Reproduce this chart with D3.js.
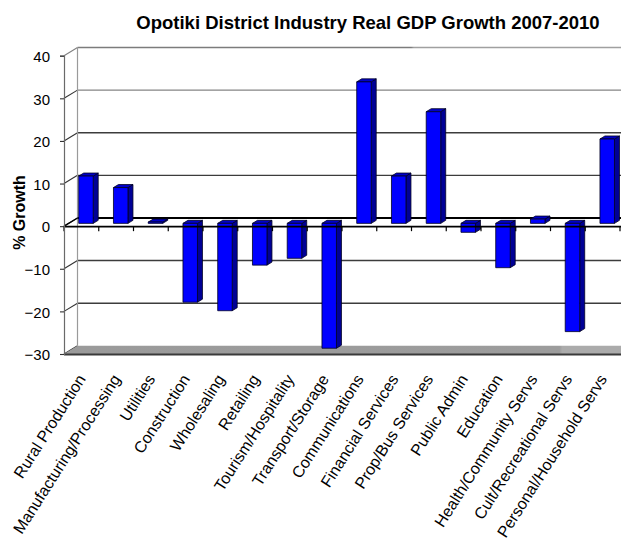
<!DOCTYPE html>
<html>
<head>
<meta charset="utf-8">
<script src="https://cdn.jsdelivr.net/npm/d3@7/dist/d3.min.js"></script>
<style>
  html, body { margin: 0; padding: 0; background: #fff; }
  svg { display: block; font-family: "Liberation Sans", Arial, sans-serif; }
</style>
</head>
<body>
<svg id="chart" width="621" height="539"></svg>
<script>
// Real GDP growth by industry, Opotiki District, 2007-2010 (%)
const categories = [
  "Rural Production", "Manufacturing/Processing", "Utilities", "Construction",
  "Wholesaling", "Retailing", "Tourism/Hospitality", "Transport/Storage",
  "Communications", "Financial Services", "Prop/Bus Services", "Public Admin",
  "Education", "Health/Community Servs", "Cult/Recreational Servs", "Personal/Household Servs"
];
const growth = [11.1, 8.4, 0.3, -18.5, -20.5, -9.8, -8.2, -29.3,
                33.2, 11.1, 26.2, -2.1, -10.4, 1.0, -25.4, 19.8];
const yTicks = [-30, -20, -10, 0, 10, 20, 30, 40];
const titleText = "Opotiki District Industry Real GDP Growth 2007-2010";
const yTitle = "% Growth";

const svg = d3.select("#chart");

// front plane of the 3-D box
const X0 = 64, X1 = 620;
const x = d3.scaleBand().domain(categories).range([X0, X1]).paddingInner(0).paddingOuter(0);
const y = d3.scaleLinear().domain([-30, 40]).range([354, 55.7]);

// depth offset of the back wall
const DX = 13.5, DY = -8.2;
// bars sit part-way into the box
const f0 = 0.34, fd = 0.37;
const barW = 14.5;

const defs = svg.append("defs");
const g1 = defs.append("linearGradient").attr("id", "floorFill")
  .attr("gradientUnits", "userSpaceOnUse").attr("x1", X0).attr("x2", X1 + DX).attr("y1", 0).attr("y2", 0);
g1.append("stop").attr("offset", 0.0).attr("stop-color", "#9a9a9a");
g1.append("stop").attr("offset", 0.87).attr("stop-color", "#9c9c9c");
g1.append("stop").attr("offset", 0.875).attr("stop-color", "#ababab");
g1.append("stop").attr("offset", 1).attr("stop-color", "#ababab");
const g2 = defs.append("linearGradient").attr("id", "topLine")
  .attr("gradientUnits", "userSpaceOnUse").attr("x1", X0 + DX).attr("x2", X1 + DX).attr("y1", 0).attr("y2", 0);
g2.append("stop").attr("offset", 0.0).attr("stop-color", "#7c7c7c");
g2.append("stop").attr("offset", 0.6).attr("stop-color", "#7c7c7c");
g2.append("stop").attr("offset", 0.605).attr("stop-color", "#a0a0a0");
g2.append("stop").attr("offset", 1).attr("stop-color", "#a0a0a0");

// ---- walls ----
const walls = svg.append("g");

// back wall gridlines
walls.selectAll("line.grid")
  .data(yTicks.filter(v => v > -30 && v !== 0))
  .join("line")
  .attr("class", "grid")
  .attr("x1", X0 + DX).attr("x2", X1 + DX + 10)
  .attr("y1", d => y(d) + DY).attr("y2", d => y(d) + DY)
  .attr("stroke", d => d === 40 ? "url(#topLine)" : d === 30 ? "#858585" : "#3c3c3c")
  .attr("stroke-width", 1.4);

// side wall gridlines
walls.selectAll("line.side")
  .data(yTicks)
  .join("line")
  .attr("class", "side")
  .attr("x1", X0).attr("x2", X0 + DX)
  .attr("y1", d => y(d)).attr("y2", d => y(d) + DY)
  .attr("stroke", d => d === 40 ? "#808080" : "#333")
  .attr("stroke-width", 1.1);

// back wall left edge
walls.append("line")
  .attr("x1", X0 + DX).attr("x2", X0 + DX)
  .attr("y1", y(40) + DY).attr("y2", y(-30) + DY)
  .attr("stroke", "#9a9a9a").attr("stroke-width", 1.2);

// floor
walls.append("path")
  .attr("d", `M${X0},${y(-30)}L${X1 + 20},${y(-30)}L${X1 + 20},${y(-30) + DY}L${X0 + DX},${y(-30) + DY}Z`)
  .attr("fill", "url(#floorFill)");
walls.append("line")
  .attr("x1", X0).attr("x2", X1 + 20)
  .attr("y1", y(-30) + 0.5).attr("y2", y(-30) + 0.5)
  .attr("stroke", "#3a3a3a").attr("stroke-width", 2);

// zero line on the back wall
walls.append("line")
  .attr("x1", X0 + DX).attr("x2", X1 + DX + 10)
  .attr("y1", y(0) + DY).attr("y2", y(0) + DY)
  .attr("stroke", "#000").attr("stroke-width", 2);

// ---- bars ----
const ddx = DX * fd, ddy = DY * fd;
const bars = svg.append("g");
categories.forEach((c, i) => {
  const v = growth[i];
  const fx = x(c) + x.bandwidth() / 2 - barW / 2 + DX * f0;
  const y0 = y(0) + DY * f0;
  const yv = y(v) + DY * f0;
  const yTop = Math.min(y0, yv), yBot = Math.max(y0, yv);
  const b = bars.append("g").attr("stroke", "#000022").attr("stroke-width", 0.8).attr("stroke-linejoin", "round");
  // right side
  b.append("path")
    .attr("d", `M${fx + barW},${yTop}L${fx + barW + ddx},${yTop + ddy}L${fx + barW + ddx},${yBot + ddy}L${fx + barW},${yBot}Z`)
    .attr("fill", "#000096");
  // top
  b.append("path")
    .attr("d", `M${fx},${yTop}L${fx + ddx},${yTop + ddy}L${fx + barW + ddx},${yTop + ddy}L${fx + barW},${yTop}Z`)
    .attr("fill", "#0000c8");
  // front
  b.append("rect")
    .attr("x", fx).attr("y", yTop)
    .attr("width", barW).attr("height", Math.max(0.01, yBot - yTop))
    .attr("fill", "#0000ff");
});

// ---- front zero axis (in front of the bars) ----
const front = svg.append("g");
front.append("line")
  .attr("x1", X0).attr("x2", X0 + DX)
  .attr("y1", y(0)).attr("y2", y(0) + DY)
  .attr("stroke", "#000").attr("stroke-width", 1.3);
front.append("line")
  .attr("x1", X0).attr("x2", X1 + 2)
  .attr("y1", y(0) + 0.5).attr("y2", y(0) + 0.5)
  .attr("stroke", "#000").attr("stroke-width", 1.8);
const bounds = categories.map(c => x(c)).concat([x.range()[1]]);
front.selectAll("line.ctick")
  .data(bounds)
  .join("line")
  .attr("class", "ctick")
  .attr("x1", d => d).attr("x2", d => d)
  .attr("y1", y(0)).attr("y2", y(0) + 5)
  .attr("stroke", "#000").attr("stroke-width", 1.2);

// ---- y axis ----
const yAxis = svg.append("g")
  .attr("transform", `translate(${X0},0)`)
  .call(d3.axisLeft(y).tickValues(yTicks).tickSize(4).tickPadding(10).tickFormat(d3.format("d")));
yAxis.select(".domain").attr("stroke", "#6a6a6a").attr("stroke-width", 1.2);
yAxis.selectAll(".tick line").attr("stroke", "#333").attr("stroke-width", 1.1);
yAxis.selectAll(".tick text")
  .attr("fill", "#000")
  .attr("dy", "0.38em")
  .style("font-size", "15px")
  .style("font-family", "'Liberation Sans', Arial, sans-serif");

// ---- category labels ----
const xAxis = svg.append("g")
  .attr("transform", `translate(5,379)`)
  .call(d3.axisBottom(x).tickSize(0).tickPadding(0));
xAxis.select(".domain").remove();
xAxis.selectAll(".tick text")
  .attr("x", 0).attr("y", 0).attr("dy", 0)
  .attr("transform", "rotate(-57.5)")
  .attr("fill", "#000")
  .style("text-anchor", "end")
  .style("font-size", "16px")
  .style("font-family", "'Liberation Sans', Arial, sans-serif");

// ---- titles ----
svg.append("text")
  .attr("x", 368).attr("y", 28.5)
  .attr("text-anchor", "middle")
  .style("font-size", "18.5px").style("font-weight", "bold")
  .text(titleText);

svg.append("text")
  .attr("transform", "translate(25,212.5) rotate(-90)")
  .attr("text-anchor", "middle")
  .style("font-size", "16px").style("font-weight", "bold")
  .text(yTitle);
</script>
</body>
</html>
